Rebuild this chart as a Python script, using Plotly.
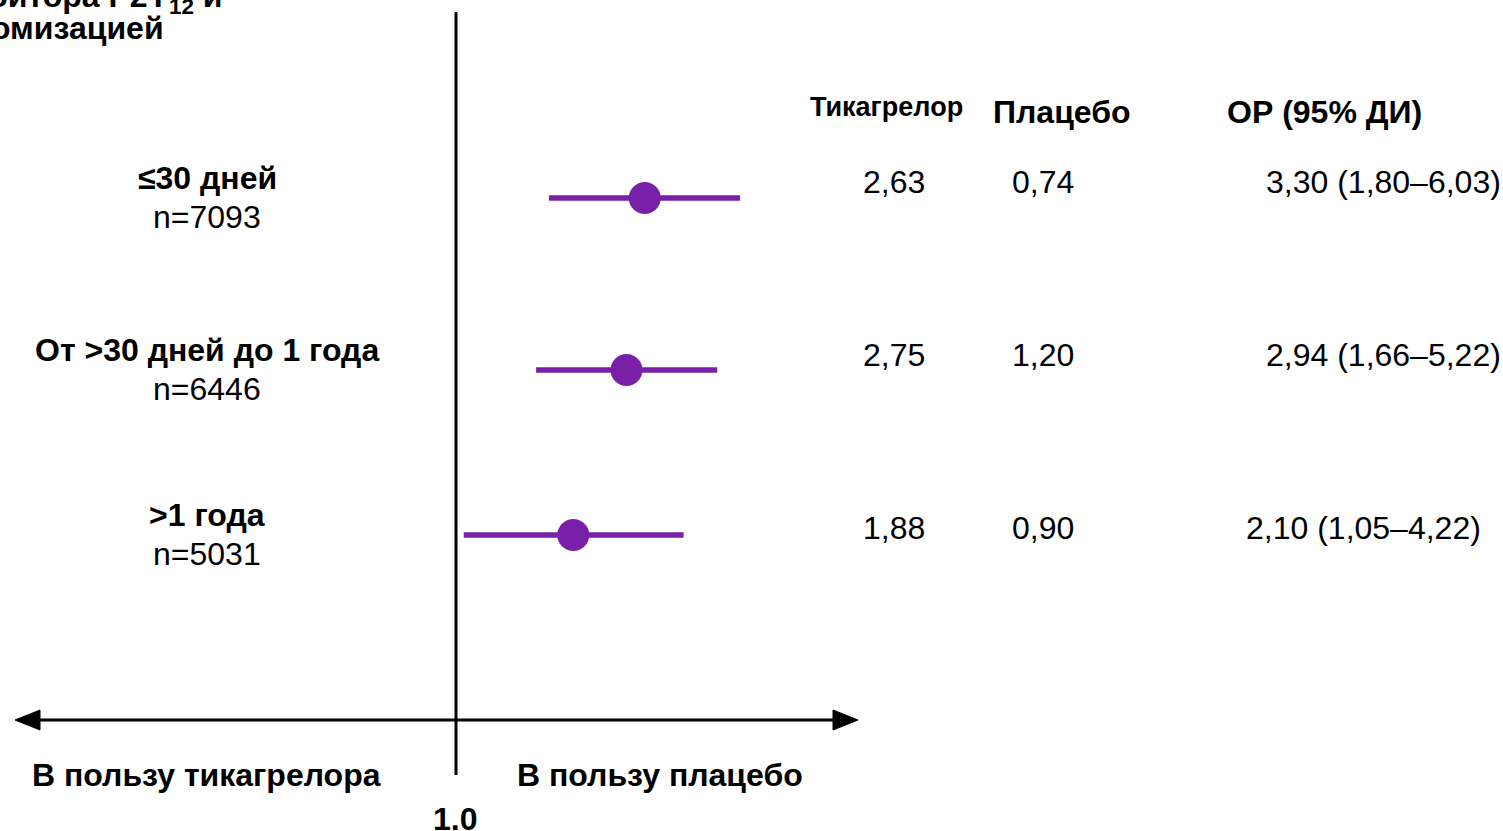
import plotly.graph_objects as go

# ---- data ----
subgroups = ["≤30 дней", "От >30 дней до 1 года", ">1 года"]
n_patients = ["n=7093", "n=6446", "n=5031"]
rate_ticagrelor = ["2,63", "2,75", "1,88"]
rate_placebo = ["0,74", "1,20", "0,90"]
hr = [3.30, 2.94, 2.10]
ci_low = [1.80, 1.66, 1.05]
ci_high = [6.03, 5.22, 4.22]

col_headers = ["Тикагрелор", "Плацебо", "ОР (95% ДИ)"]
favours = ["В пользу тикагрелора", "В пользу плацебо"]
ref_label = "1.0"

# ---- layout constants ----
W, H = 1503, 831
FONT = "Liberation Sans, Arial, sans-serif"
PURPLE = "#7a20a8"
ROW_PX = [198, 370, 535]          # vertical centre of each subgroup row (px)
Y_TOP_PX, ROW_STEP_PX = 198, 168.5
REF_PX, PX_PER_DECADE = 456, 364   # HR = 1 position and log scale
X_LOG_RANGE = [-REF_PX / PX_PER_DECADE, (W - REF_PX) / PX_PER_DECADE]


def row_y(px):
    """Pixel height -> y-axis data units."""
    return (px - Y_TOP_PX) / ROW_STEP_PX


def hr_at(px):
    """Pixel column -> HR value on the log axis."""
    return 10 ** ((px - REF_PX) / PX_PER_DECADE)


def paper(xp, yp):
    return xp / W, 1 - yp / H


rows = [row_y(p) for p in ROW_PX]

fig = go.Figure()

# confidence intervals
ci_x, ci_y = [], []
for lo, hi, y in zip(ci_low, ci_high, rows):
    ci_x += [lo, hi, None]
    ci_y += [y, y, None]
fig.add_trace(go.Scatter(x=ci_x, y=ci_y, mode="lines",
                         line=dict(color=PURPLE, width=5.5),
                         hoverinfo="skip", showlegend=False))

# point estimates
fig.add_trace(go.Scatter(x=hr, y=rows, mode="markers",
                         marker=dict(color=PURPLE, size=32, line=dict(width=0)),
                         showlegend=False))

# line of no effect (HR = 1)
fig.add_trace(go.Scatter(x=[1, 1], y=[row_y(12), row_y(775)], mode="lines",
                         line=dict(color="black", width=3),
                         hoverinfo="skip", showlegend=False))

# double-headed direction arrow
arrow_y = row_y(720)
tip_l, tip_r = hr_at(15), hr_at(858)
head_len = 10 ** (25 / PX_PER_DECADE)
head_half = 10 / ROW_STEP_PX
fig.add_trace(go.Scatter(x=[tip_l * head_len, tip_r / head_len], y=[arrow_y, arrow_y],
                         mode="lines", line=dict(color="black", width=3),
                         hoverinfo="skip", showlegend=False))
for tip, base in [(tip_l, tip_l * head_len), (tip_r, tip_r / head_len)]:
    fig.add_trace(go.Scatter(x=[tip, base, base, tip],
                             y=[arrow_y, arrow_y - head_half, arrow_y + head_half, arrow_y],
                             mode="lines", fill="toself", fillcolor="black",
                             line=dict(color="black", width=1),
                             hoverinfo="skip", showlegend=False))

ann = []


def text(xp, yp, s, size, bold=False, xanchor="center"):
    x, y = paper(xp, yp)
    ann.append(dict(x=x, y=y, xref="paper", yref="paper", text=f"<b>{s}</b>" if bold else s,
                    showarrow=False, xanchor=xanchor, yanchor="middle",
                    font=dict(family=FONT, size=size, color="black")))


# subgroup labels
for name, n, yc in zip(subgroups, n_patients, ROW_PX):
    text(207, yc - 20, name, 32, bold=True)
    text(207, yc + 19, n, 32)

# table columns
val_px = [182, 355, 528]
or_x = [1383, 1383, 1363]
for i in range(3):
    text(894, val_px[i], rate_ticagrelor[i], 32)
    text(1043, val_px[i], rate_placebo[i], 32)
    or_txt = f"{hr[i]:.2f} ({ci_low[i]:.2f}–{ci_high[i]:.2f})".replace(".", ",")
    text(or_x[i], val_px[i], or_txt, 32)

text(886, 107, col_headers[0], 27, bold=True)
text(1061, 112, col_headers[1], 32, bold=True)
text(1324, 112, col_headers[2], 32, bold=True)

# favours labels and reference value
text(206, 775, favours[0], 32, bold=True)
text(660, 775, favours[1], 32, bold=True)
text(455, 819, ref_label, 32, bold=True)

# panel title (runs off the top-left edge)
text(224, -2, "ингибитора P2Y<sub>12</sub> и", 32, bold=True, xanchor="right")
text(166, 28, "рандомизацией", 32, bold=True, xanchor="right")

fig.update_layout(
    width=W, height=H,
    margin=dict(l=0, r=0, t=0, b=0),
    paper_bgcolor="white", plot_bgcolor="white",
    xaxis=dict(type="log", range=X_LOG_RANGE, visible=False, domain=[0, 1]),
    yaxis=dict(range=[row_y(H), row_y(0)], visible=False, domain=[0, 1]),
    annotations=ann,
    showlegend=False,
)

fig.write_html("out.html")
